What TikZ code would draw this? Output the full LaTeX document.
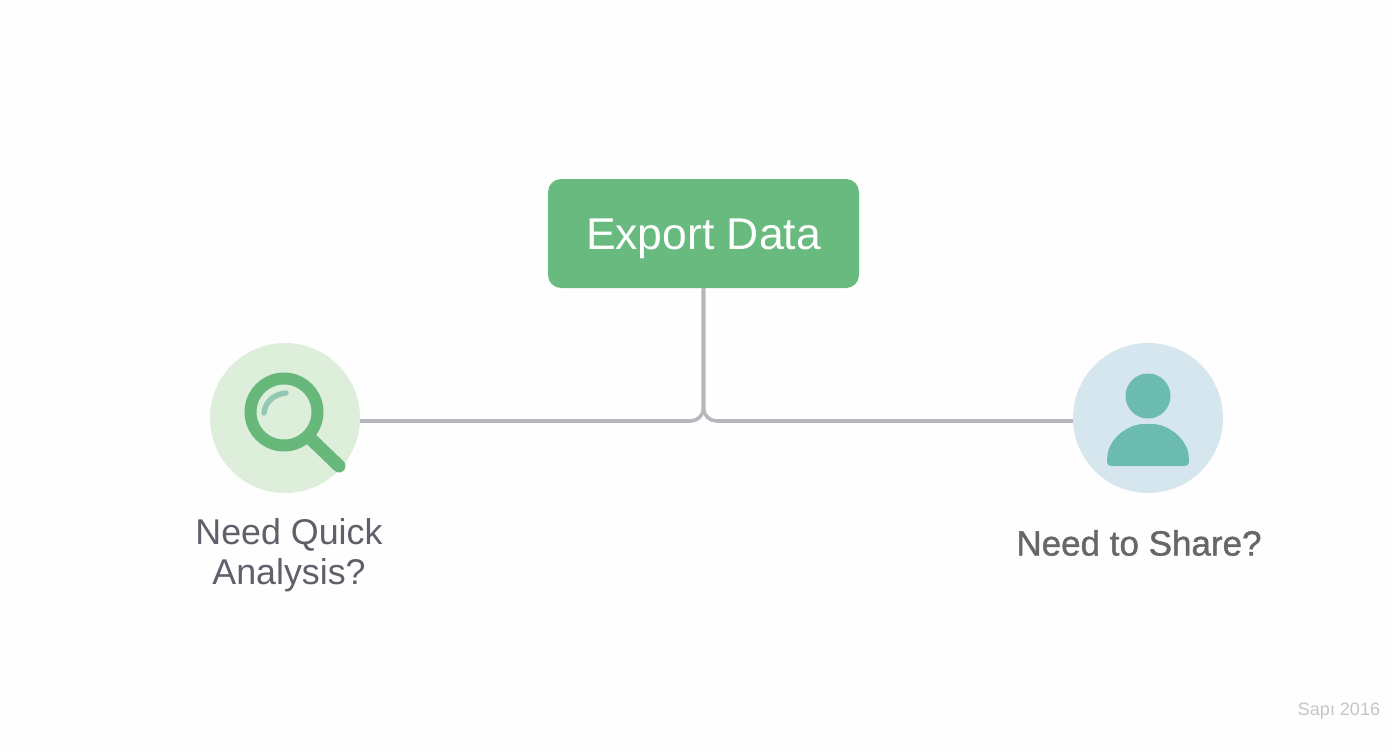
\documentclass[tikz,border=0pt]{standalone}
\usepackage{fontspec}
\setmainfont{Liberation Sans}
\newfontfamily\sharefont[FakeBold=1.2]{Liberation Sans}
\usepackage{xcolor}
\usetikzlibrary{positioning,shapes.geometric,calc}
\definecolor{boxgreen}{HTML}{69BA7F}
\definecolor{ringgreen}{HTML}{68B77B}
\definecolor{palegreen}{HTML}{DDEEDB}
\definecolor{paleblue}{HTML}{D6E6EE}
\definecolor{tealfill}{HTML}{6BBBB1}
\definecolor{glint}{HTML}{93C9B4}
\definecolor{linkgrey}{HTML}{B7B5BE}
\definecolor{labelgrey}{HTML}{5F6069}
\definecolor{sharegrey}{HTML}{666767}
\definecolor{stampgrey}{HTML}{C4C6C6}
\definecolor{paper}{HTML}{FEFEFE}
\tikzset{
rootbox/.style = {rectangle, rounded corners=13pt, fill=boxgreen, text=white, inner sep=0pt, minimum width=311pt, minimum height=109pt, text height=31pt, text depth=0pt, font=\fontsize{44.5}{50}\selectfont},
badge/.style = {circle, inner sep=0pt, minimum size=150pt},% round backdrop of an icon
question/.style = {align=center, inner sep=0pt, font=\fontsize{35.8}{40}\selectfont},
link/.style = {draw=linkgrey, line width=3.6pt, rounded corners=13pt}
}
\begin{document}
\begin{tikzpicture}[x=1pt, y=-1pt]
	\useasboundingbox[fill=paper] (0,0) rectangle (1392,752);
	\node [rootbox] (export) at (703.5,233.5) {Export Data};
	\node [badge, fill=palegreen] (quick) at (285,418) {};
	\node [badge, fill=paleblue] (share) at (1148,418) {};
	\coordinate (fork) at (703.5,421);
	% connectors
	\draw [link] (export.south) -- (fork) -- (fork -| quick.east);
	\draw [link] (export.south) -- (fork) -- (fork -| share.west);
	% magnifier
	\node [circle, draw=ringgreen, line width=12pt, inner sep=0pt, minimum size=67pt] (lens) at (284,412) {};
	\draw [ringgreen, line width=13pt, line cap=round] (lens.south east) -- (339,466);
	\draw [glint, line width=5.5pt, line cap=round] (264,413) .. controls (265,402) and (274,394) .. (286,393);
	% person
	\node [circle, fill=tealfill, inner sep=0pt, minimum size=45pt] (head) at (1148,396) {};
	\fill [tealfill, rounded corners=4pt] (1107,466) -- (1107,458) .. controls (1110,438) and (1128,424) .. (1148,424) .. controls (1168,424) and (1186,438) .. (1189,458) -- (1189,466) -- cycle;
	% labels
	\node [question, text=labelgrey] (quicklabel) at (289,555) {Need Quick\\Analysis?};
	\node [question, text=sharegrey, font=\fontsize{35}{40}\sharefont] (sharelabel) at (1139,543) {Need to Share?};
	\node [text=stampgrey, inner sep=0pt, font=\fontsize{18}{20}\selectfont] (stamp) at (1339,711) {Sapı 2016};
\end{tikzpicture}
\end{document}
